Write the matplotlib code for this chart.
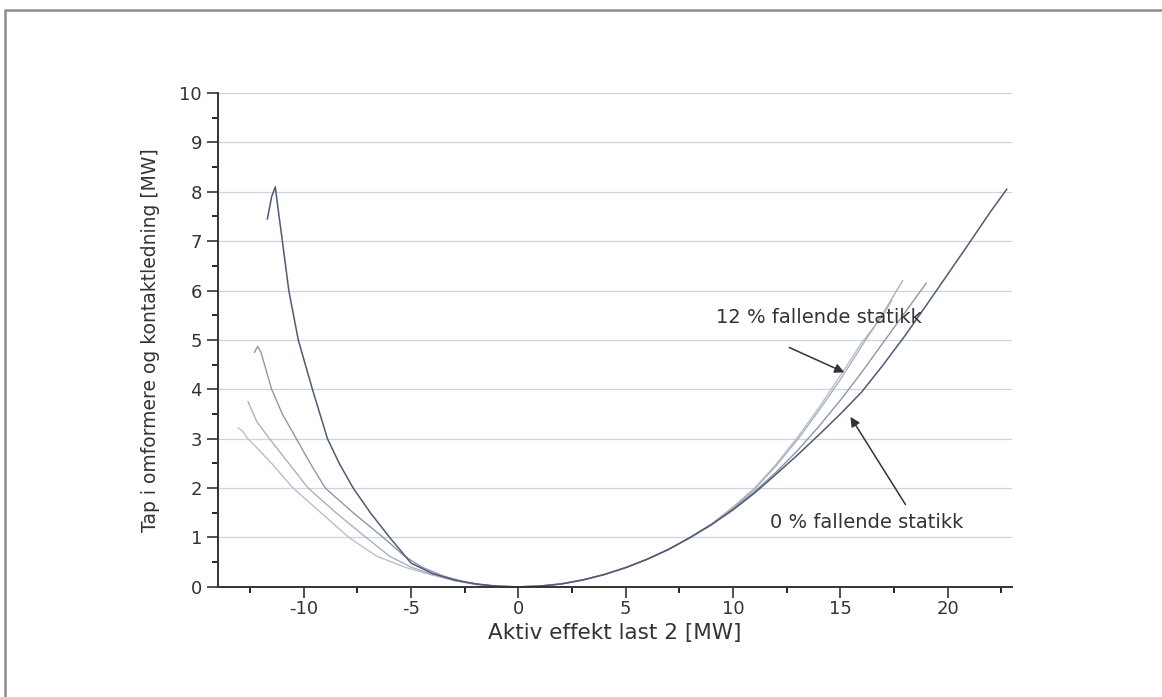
# Loss in converters and catenary vs. active power of load 2.
import matplotlib.pyplot as plt
from matplotlib.lines import Line2D
from matplotlib.ticker import MultipleLocator

# Use a plain hyphen for negative tick labels, as in the original.
plt.rcParams['axes.unicode_minus'] = False

# Curve 1 (0 % droop, darkest line).
X_1 = [-11.7, -11.5, -11.33, -11.2, -11.0, -10.7, -10.26, -9.6, -8.9, -8.35, -7.7, -6.9, -6.0,
       -5.0, -4.0, -3.0, -2.0, -1.0, 0, 1, 2, 3, 4, 5, 6, 7, 8, 9, 10, 11, 12, 13, 14, 15, 16,
       17, 18, 19, 20, 21, 22, 22.75]
Y_1 = [7.45, 7.9, 8.1, 7.65, 7.0, 6.0, 5.0, 4.0, 3.0, 2.5, 2.0, 1.5, 1.0,
       0.48, 0.27, 0.14, 0.06, 0.015, 0, 0.016, 0.06, 0.14, 0.25, 0.39, 0.56, 0.76, 1.0, 1.26,
       1.56, 1.9, 2.28, 2.67, 3.08, 3.5, 3.95, 4.5, 5.08, 5.7, 6.33, 6.96, 7.6, 8.05]

# Curve 2.
X_2 = [-12.3, -12.15, -12.0, -11.5, -11.0, -10.35, -9.7, -9.0, -7.7, -6.3, -5.3, -4.5, -3.5,
       -2.5, -1.5, -0.5, 0, 1, 2, 3, 4, 5, 6, 7, 8, 9, 10, 11, 12, 13, 14, 15, 16, 17, 18, 19.0]
Y_2 = [4.75, 4.87, 4.75, 4.0, 3.5, 3.0, 2.5, 2.0, 1.5, 1.0, 0.62, 0.4, 0.22,
       0.1, 0.03, 0.004, 0, 0.016, 0.06, 0.14, 0.25, 0.39, 0.56, 0.76, 1.0, 1.27, 1.58, 1.93,
       2.32, 2.76, 3.25, 3.78, 4.35, 4.95, 5.55, 6.15]

# Curve 3.
X_3 = [-12.6, -12.45, -12.2, -11.6, -10.7, -9.8, -8.5, -7.1, -6.0, -5.0, -4.0, -3.0, -2.0, -1.0,
       0, 1, 2, 3, 4, 5, 6, 7, 8, 9, 10, 11, 12, 13, 14, 15, 16, 17, 17.9]
Y_3 = [3.75, 3.6, 3.35, 3.0, 2.5, 2.0, 1.5, 1.0, 0.62, 0.4, 0.25, 0.13, 0.05, 0.012,
       0, 0.016, 0.06, 0.14, 0.25, 0.39, 0.56, 0.76, 1.0, 1.27, 1.6, 1.98, 2.45, 2.98, 3.57,
       4.2, 4.88, 5.55, 6.2]

# Curve 4 (12 % droop).
X_4 = [-13.05, -12.85, -12.6, -11.5, -10.5, -9.2, -7.9, -6.6, -5.3, -4.2, -3.0, -2.0, -1.0,
       0, 1, 2, 3, 4, 5, 6, 7, 8, 9, 10, 11, 12, 13, 14, 15, 16, 17, 17.4]
Y_4 = [3.22, 3.15, 3.0, 2.5, 2.0, 1.5, 1.0, 0.62, 0.4, 0.26, 0.13, 0.05, 0.012,
       0, 0.016, 0.06, 0.14, 0.25, 0.39, 0.56, 0.76, 1.0, 1.27, 1.62, 2.0, 2.48, 3.03, 3.63,
       4.28, 4.95, 5.5, 5.8]

# Creates the figure and the axis.
fig = plt.figure(figsize=(11.62, 6.97), dpi=100)
ax = fig.add_axes([0.1876, 0.158, 0.6834, 0.7086])

# Light grey frame around the page (top and left edge are visible).
fig.add_artist(Line2D([0.004, 0.004, 1.0], [0.0, 0.986, 0.986], color='#8c8c8c', lw=1.8))

# Draw the curves.
ax.plot(X_4, Y_4, color='#b9c0cc', lw=1.0)
ax.plot(X_3, Y_3, color='#a9b1c0', lw=1.0)
ax.plot(X_2, Y_2, color='#8e97aa', lw=1.0)
ax.plot(X_1, Y_1, color='#4f5a74', lw=1.1)

# Axis limits and ticks.
ax.set_xlim(-14, 23)
ax.set_ylim(0, 10)
ax.xaxis.set_major_locator(MultipleLocator(5))
ax.xaxis.set_minor_locator(MultipleLocator(2.5))
ax.yaxis.set_major_locator(MultipleLocator(1))
ax.yaxis.set_minor_locator(MultipleLocator(0.5))
ax.tick_params(which='major', direction='out', length=8, width=1.2, labelsize=13, colors='#333333')
ax.tick_params(which='minor', direction='out', length=4.5, width=1.2)
ax.tick_params(axis='x', which='major', pad=1.5)
for side in ['top', 'right']:
    ax.spines[side].set_visible(False)
for side in ['left', 'bottom']:
    ax.spines[side].set_linewidth(1.4)
    ax.spines[side].set_color('#333333')

# Faint horizontal grid lines.
ax.grid(axis='y', color='#cdd4df', lw=0.9)
ax.get_ygridlines()[-1].set_visible(False)
ax.set_axisbelow(True)

# Labels.
ax.set_xlabel('Aktiv effekt last 2 [MW]', fontsize=15.5, color='#333333')
ax.xaxis.set_label_coords(0.5, -0.074)
ax.set_ylabel('Tap i omformere og kontaktledning [MW]', fontsize=13.5, color='#333333', labelpad=14)

# Annotations with arrows.
ax.annotate('', xy=(15.3, 4.32), xytext=(12.5, 4.87),
            arrowprops=dict(arrowstyle='-|>', color='#333333', lw=1.1, mutation_scale=14))
ax.text(9.2, 5.45, '12 % fallende statikk', fontsize=14, color='#333333', va='center')
ax.annotate('', xy=(15.4, 3.49), xytext=(18.1, 1.62),
            arrowprops=dict(arrowstyle='-|>', color='#333333', lw=1.1, mutation_scale=14))
ax.text(11.7, 1.3, '0 % fallende statikk', fontsize=14, color='#333333', va='center')

# Save the plot.
fig.savefig('out.png', dpi=100)
